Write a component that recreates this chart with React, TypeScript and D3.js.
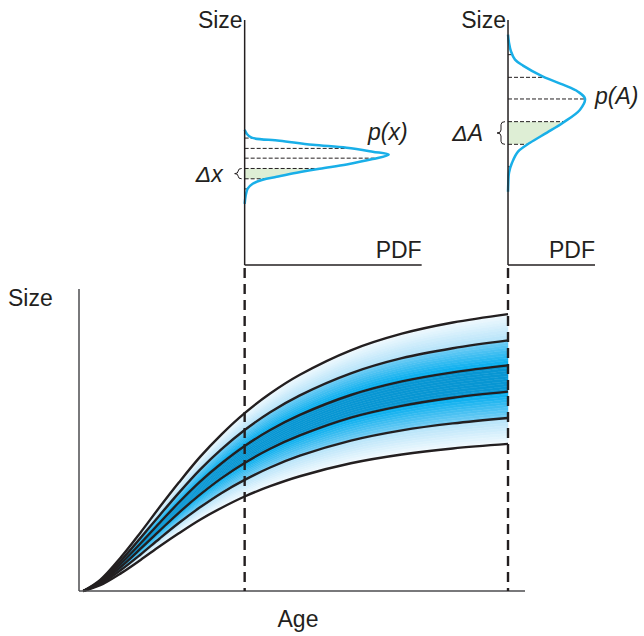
import { useEffect, useRef } from 'react';
import * as d3 from 'd3';

const W = 644;
const H = 636;

const COLORS = {
  ink: '#231f20',
  axis: '#4d4d4f',
  pdf: '#19afe8',
  fill: '#deeed5',
};

const FONT = '"Liberation Sans", Arial, Helvetica, sans-serif';

// ages sampled along the growth curves
const AGES = [0, 0.4, 0.9, 1.35, 1.8, 2.25, 2.75, 3.25, 3.8, 4.4, 5.1, 6.3, 7.5, 8.7, 10];

// six growth curves (size vs age), largest first
const CURVE_1 = [0, 3.7, 11.4, 19.4, 27.8, 35.9, 44.4, 51.8, 58.9, 65.4, 71.6, 79.7, 85.2, 88.9, 91.7];
const CURVE_2 = [0, 3.3, 10.3, 17.6, 25.1, 32.5, 40.2, 46.9, 53.3, 59.2, 64.8, 72.1, 77.1, 80.4, 83.0];
const CURVE_3 = [0, 3.0, 9.3, 15.8, 22.6, 29.3, 36.2, 42.2, 48.0, 53.3, 58.3, 64.9, 69.4, 72.4, 74.7];
const CURVE_4 = [0, 2.6, 8.2, 14.0, 20.0, 25.9, 31.9, 37.3, 42.4, 47.1, 51.5, 57.4, 61.3, 64.0, 66.0];
const CURVE_5 = [0, 2.3, 7.1, 12.1, 17.4, 22.5, 27.7, 32.4, 36.8, 40.9, 44.8, 49.8, 53.2, 55.5, 57.3];
const CURVE_6 = [0, 1.9, 6.0, 10.3, 14.8, 19.1, 23.6, 27.5, 31.3, 34.7, 38.0, 42.3, 45.2, 47.2, 48.7];
const CURVES = [CURVE_1, CURVE_2, CURVE_3, CURVE_4, CURVE_5, CURVE_6];

// the two ages where the size distribution is shown
const AGE_LEFT = 3.8;
const AGE_RIGHT = 10;

// p(x): size distribution at the younger age
const PDF_X_SIZE = [63.4, 61.3, 59.1, 57.5, 55.3, 53.7, 51.5, 49.9, 47.5, 44.6, 42.3, 40.1, 37.9, 36.3, 34.1, 31.4, 27.6, 23.2];
const PDF_X_DENS = [0.0, 0.02, 0.07, 0.35, 0.68, 1.02, 1.28, 1.44, 1.28, 1.02, 0.75, 0.52, 0.32, 0.18, 0.08, 0.03, 0.01, 0.0];

// p(A): size distribution at the older age
const PDF_A_SIZE = [99.4, 96.3, 92.9, 89.8, 87.5, 83.3, 80.2, 77.5, 74.8, 70.6, 65.6, 61.8, 57.9, 54.5, 50.2, 46.4, 42.6, 39.1];
const PDF_A_DENS = [0.0, 0.01, 0.03, 0.07, 0.15, 0.35, 0.55, 0.7, 0.77, 0.72, 0.55, 0.39, 0.22, 0.1, 0.04, 0.01, 0.003, 0.0];

const bandColor = (d: number) => {
  if (d <= 0.2) return '#0896d3';
  if (d <= 0.6) return d3.interpolateRgb('#00acee', '#74cdf4')((d - 0.2) / 0.4);
  return d3.interpolateRgb('#b3e2f9', '#f2fafe')((d - 0.6) / 0.4);
};

function densityAt(sizes: number[], dens: number[], s: number) {
  for (let i = 0; i < sizes.length - 1; i++) {
    const a = sizes[i];
    const b = sizes[i + 1];
    if (s <= a && s >= b) {
      const t = (a - s) / (a - b);
      return dens[i] + (dens[i + 1] - dens[i]) * t;
    }
  }
  return 0;
}

// curly brace opening to the right, point on the left
function bracePath(xr: number, yt: number, yb: number, w: number) {
  const p = d3.path();
  const xm = xr - w / 2;
  const xl = xr - w;
  const mid = (yt + yb) / 2;
  const r = Math.min(3, (yb - yt) / 4);
  p.moveTo(xr, yt);
  p.quadraticCurveTo(xm, yt, xm, yt + r);
  p.lineTo(xm, mid - r);
  p.quadraticCurveTo(xm, mid, xl, mid);
  p.quadraticCurveTo(xm, mid, xm, mid + r);
  p.lineTo(xm, yb - r);
  p.quadraticCurveTo(xm, yb, xr, yb);
  return p.toString();
}

export default function App() {
  const svgRef = useRef<SVGSVGElement | null>(null);

  useEffect(() => {
    if (!svgRef.current) return;
    const svg = d3.select(svgRef.current);
    svg.selectAll('*').remove();

    const x = d3.scaleLinear().domain([-0.1, 10.4]).range([79, 525]);
    const y = d3.scaleLinear().domain([0, 100]).range([591, 289]);

    const ageIdx = (age: number) => AGES.indexOf(age);

    // shaded density band, drawn as thin strips between neighbouring curves
    const K = 10;
    const area = d3.area<number>()
      .x((_, i) => x(AGES[i]))
      .curve(d3.curveCatmullRom);
    const strips = svg.append('g');
    for (let b = 0; b < CURVES.length - 1; b++) {
      const top = CURVES[b];
      const bot = CURVES[b + 1];
      for (let j = 0; j < K; j++) {
        const t0 = j / K;
        const t1 = (j + 1) / K;
        const s = b + (t0 + t1) / 2;
        const d = Math.abs(s - 2.5) / 2.5;
        const col = bandColor(d);
        strips.append('path')
          .datum(AGES)
          .attr('d', area
            .y0((_, i) => y(top[i] + (bot[i] - top[i]) * t0))
            .y1((_, i) => y(top[i] + (bot[i] - top[i]) * t1)))
          .attr('fill', col)
          .attr('stroke', col)
          .attr('stroke-width', 0.5);
      }
    }

    // growth curves
    const line = d3.line<number>()
      .x((_, i) => x(AGES[i]))
      .y((v) => y(v))
      .curve(d3.curveCatmullRom);
    CURVES.forEach((c) => {
      svg.append('path')
        .datum(c)
        .attr('d', line)
        .attr('fill', 'none')
        .attr('stroke', COLORS.ink)
        .attr('stroke-width', 2.4);
    });

    // main axes
    svg.append('line')
      .attr('x1', x.range()[0]).attr('x2', x.range()[0])
      .attr('y1', y.range()[1]).attr('y2', y.range()[0])
      .attr('stroke', COLORS.axis).attr('stroke-width', 1.5);
    svg.append('line')
      .attr('x1', x.range()[0]).attr('x2', x.range()[1])
      .attr('y1', y.range()[0]).attr('y2', y.range()[0])
      .attr('stroke', COLORS.axis).attr('stroke-width', 1.5);

    // dashed age markers
    [AGE_LEFT, AGE_RIGHT].forEach((a) => {
      svg.append('line')
        .attr('x1', x(a)).attr('x2', x(a))
        .attr('y1', 268).attr('y2', y(0))
        .attr('stroke', COLORS.ink)
        .attr('stroke-width', 2.4)
        .attr('stroke-dasharray', '10,6');
    });

    svg.append('text')
      .attr('x', 8).attr('y', 306)
      .style('font-family', FONT).style('font-size', '23px').attr('fill', COLORS.ink)
      .text('Size');
    svg.append('text')
      .attr('x', 298).attr('y', 627)
      .attr('text-anchor', 'middle')
      .style('font-family', FONT).style('font-size', '23px').attr('fill', COLORS.ink)
      .text('Age');

    // PDF panels
    const panels = [
      {
        age: AGE_LEFT, sizes: PDF_X_SIZE, dens: PDF_X_DENS,
        sizeDomain: [-10, 123], densMax: 1.77,
        pLabel: 'p(x)', dLabel: 'x', pos: [368, 140], braceW: 7, labelGap: 22,
      },
      {
        age: AGE_RIGHT, sizes: PDF_A_SIZE, dens: PDF_A_DENS,
        sizeDomain: [11, 105], densMax: 0.87,
        pLabel: 'p(A)', dLabel: 'A', pos: [595, 104], braceW: 8, labelGap: 25,
      },
    ];

    panels.forEach((p) => {
      const x0 = x(p.age);
      const px = d3.scaleLinear().domain([0, p.densMax]).range([x0, x0 + p.densMax * 100]);
      const py = d3.scaleLinear().domain(p.sizeDomain).range([265, 20]);
      const g = svg.append('g');
      const k = ageIdx(p.age);
      const marks = CURVES.map((c) => c[k]);

      // shaded interval between 4th and 5th curve
      const hi = marks[3];
      const lo = marks[4];
      const seg: [number, number][] = [[hi, densityAt(p.sizes, p.dens, hi)]];
      p.sizes.forEach((s, i) => { if (s < hi && s > lo) seg.push([s, p.dens[i]]); });
      seg.push([lo, densityAt(p.sizes, p.dens, lo)]);
      g.append('path')
        .datum(seg)
        .attr('d', d3.area<[number, number]>()
          .y((d) => py(d[0]))
          .x0(px(0))
          .x1((d) => px(d[1]))
          .curve(d3.curveMonotoneY))
        .attr('fill', COLORS.fill);

      // dashed size levels
      marks.forEach((m) => {
        g.append('line')
          .attr('x1', px(0)).attr('x2', px(densityAt(p.sizes, p.dens, m)))
          .attr('y1', py(m)).attr('y2', py(m))
          .attr('stroke', COLORS.ink)
          .attr('stroke-width', 1)
          .attr('stroke-dasharray', '4,2');
      });

      // density curve
      const pts = p.sizes.map((s, i) => [s, p.dens[i]] as [number, number]);
      g.append('path')
        .datum(pts)
        .attr('d', d3.line<[number, number]>()
          .x((d) => px(d[1]))
          .y((d) => py(d[0]))
          .curve(d3.curveCatmullRom))
        .attr('fill', 'none')
        .attr('stroke', COLORS.pdf)
        .attr('stroke-width', 2.5);

      // axes
      g.append('line')
        .attr('x1', px(0)).attr('x2', px(0))
        .attr('y1', py.range()[1]).attr('y2', py.range()[0])
        .attr('stroke', COLORS.ink).attr('stroke-width', 1.5);
      g.append('line')
        .attr('x1', px(0)).attr('x2', px(p.densMax))
        .attr('y1', py.range()[0]).attr('y2', py.range()[0])
        .attr('stroke', COLORS.ink).attr('stroke-width', 1.5);

      const txt = (sel: d3.Selection<SVGTextElement, unknown, null, undefined>) =>
        sel.style('font-family', FONT).style('font-size', '23px').attr('fill', COLORS.ink);

      g.append('text').attr('x', px(0) - 2).attr('y', 28).attr('text-anchor', 'end').call(txt).text('Size');
      g.append('text').attr('x', px(p.densMax)).attr('y', 258).attr('text-anchor', 'end').call(txt).text('PDF');
      g.append('text').attr('x', p.pos[0]).attr('y', p.pos[1]).style('font-style', 'italic').call(txt).text(p.pLabel);

      const yt = py(hi);
      const yb = py(lo);
      g.append('path')
        .attr('d', bracePath(px(0) - 3, yt, yb, p.braceW))
        .attr('fill', 'none')
        .attr('stroke', COLORS.ink)
        .attr('stroke-width', 1);
      g.append('text')
        .attr('x', px(0) - p.labelGap).attr('y', (yt + yb) / 2 + 8)
        .attr('text-anchor', 'end')
        .style('font-style', 'italic')
        .call(txt)
        .text('\u0394' + p.dLabel);
    });
  }, []);

  return (
    <svg ref={svgRef} width={W} height={H}
      style={{ position: 'absolute', left: 0, top: 0, background: '#fff' }} />
  );
}
